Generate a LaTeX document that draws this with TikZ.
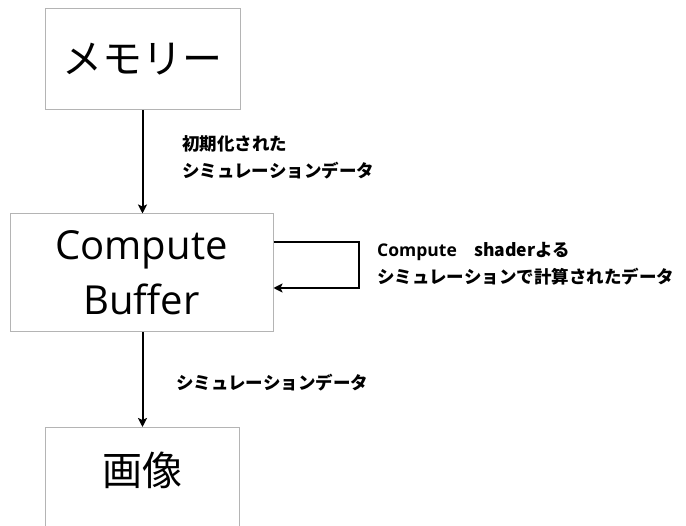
\documentclass[tikz,border=0pt]{standalone}
\usepackage{fontspec}
\setmainfont{Open Sans}
\newfontfamily\jp{Noto Sans CJK JP}
\usetikzlibrary{arrows.meta}
\definecolor{boxgray}{HTML}{B4B4B4}
\begin{document}
\begin{tikzpicture}[x=1pt,y=-1pt,
  box/.style={draw=boxgray, line width=1pt, inner sep=0pt},
  flow/.style={draw=black, line width=2pt, -{Stealth[length=9pt,width=9pt,inset=2pt]}},
  big/.style={font=\fontsize{40}{55}\selectfont, align=center, inner sep=0pt},
  lbl/.style={anchor=west, inner sep=0pt, align=left,
    font=\jp\bfseries\fontsize{17.5}{27}\selectfont}]
  \useasboundingbox (0,0) rectangle (686,526);
  \clip (0,0) rectangle (686,526);

  % boxes
  \node[box, big, minimum width=195pt, minimum height=101pt] (mem) at (142.5,59.5) {\jp メモリー};
  \node[box, big, minimum width=263pt, minimum height=118pt] (cb) at (141.5,273) {Compute\\Buffer};
  \node[box, minimum width=194pt, minimum height=140pt, anchor=north] (img) at (142,427) {};
  \node[big] (imgtext) at (142,470) {\jp 画像};

  % flows
  \draw[flow] (mem.south) -- (mem.south |- cb.north);
  \draw[flow] (cb.south -| mem.south) -- (mem.south |- img.north);

  % feedback loop on the compute buffer
  \coordinate (loopout) at (359,242);
  \coordinate (loopin) at (359,288);
  \draw[flow] (cb.east |- loopout) -- (loopout) -- (loopin) -- (cb.east |- loopin);

  % labels
  \node[lbl] (l1) at (182,157.5) {初期化された\\シミュレーションデータ};
  \node[lbl] (l2) at (377,264) {\fontspec{Open Sans}\bfseries Compute\jp　shaderよる\\シミュレーションで計算されたデータ};
  \node[lbl] (l3) at (176,383) {シミュレーションデータ};
\end{tikzpicture}
\end{document}
